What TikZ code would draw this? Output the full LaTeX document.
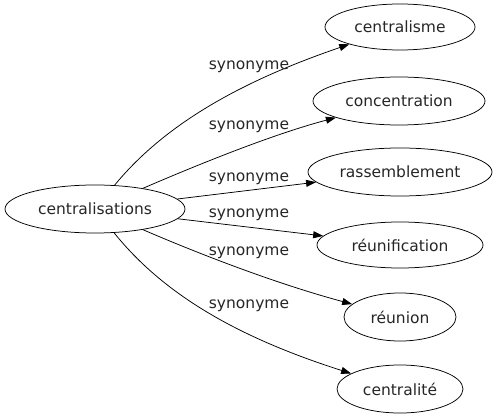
\documentclass[tikz,border=0pt]{standalone}
\usepackage{fontspec}
\setmainfont{DejaVu Sans}
\usetikzlibrary{shapes.geometric,arrows.meta}
\begin{document}
\begin{tikzpicture}[x=1pt,y=-1pt,
  word/.style={draw,line width=0.75pt,ellipse,inner sep=0pt,text=black!85,font=\fontsize{15.5}{18}\selectfont},
  lbl/.style={font=\fontsize{15.5}{18}\selectfont,text=black!85,anchor=base,inner sep=0pt},
  arr/.style={draw,line width=0.75pt,-{Triangle[length=10pt,width=7pt]}}]
\useasboundingbox (0,0) rectangle (497,419);
\node[word,minimum width=180pt,minimum height=48pt] (c) at (95,209) {centralisations};
\node[word,minimum width=150pt,minimum height=46pt] (cm) at (400,27) {centralisme};
\node[word,minimum width=172pt,minimum height=48pt] (cc) at (399,101) {concentration};
\node[word,minimum width=184pt,minimum height=48pt] (rs) at (400,172) {rassemblement};
\node[word,minimum width=166pt,minimum height=46pt] (ru) at (400,245) {réunification};
\node[word,minimum width=112pt,minimum height=48pt] (rn) at (400,317) {réunion};
\node[word,minimum width=126pt,minimum height=48pt] (cl) at (400,389) {centralité};
\draw[arr] (c) .. controls (160,130) and (230,85) .. (cm);
\draw[arr] (c) .. controls (190,168) and (270,135) .. (cc);
\draw[arr] (c) -- (rs);
\draw[arr] (c) -- (ru);
\draw[arr] (c) .. controls (190,250) and (270,282) .. (rn);
\draw[arr] (c) .. controls (160,290) and (230,335) .. (cl);
\node[lbl] (l1) at (249,70) {synonyme};
\node[lbl] (l2) at (249,130) {synonyme};
\node[lbl] (l3) at (249,182) {synonyme};
\node[lbl] (l4) at (249,218) {synonyme};
\node[lbl] (l5) at (249,255) {synonyme};
\node[lbl] (l6) at (249,308) {synonyme};
\end{tikzpicture}
\end{document}
